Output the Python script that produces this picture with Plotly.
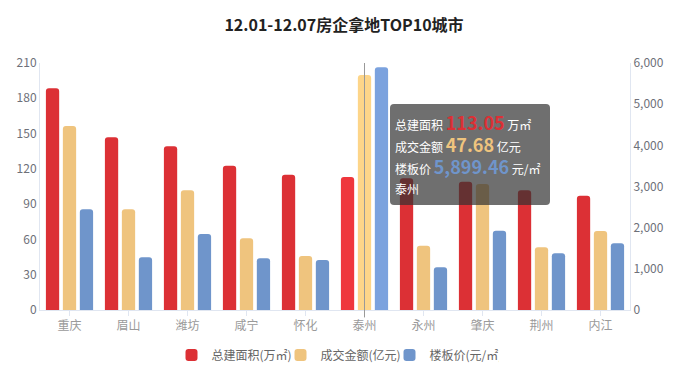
import plotly.graph_objects as go

cities = ["重庆", "眉山", "潍坊", "咸宁", "怀化", "泰州", "永州", "肇庆", "荆州", "内江"]
area = [188.5, 146.8, 139.2, 122.7, 115.0, 113.05, 112.0, 109.1, 101.8, 97.2]
amount = [156.4, 85.6, 101.8, 61.0, 45.9, 199.8, 54.7, 107.1, 53.3, 67.2]
price = [2446, 1280, 1846, 1256, 1215, 5899.46, 1037, 1927, 1377, 1619]
left_ticks = [0, 30, 60, 90, 120, 150, 180, 210]
right_ticks = [0, 1000, 2000, 3000, 4000, 5000, 6000]
hover_city = "泰州"
tip_area, tip_amount, tip_price = "113.05", "47.68", "5,899.46"

RED, YEL, BLU = "#dc3035", "#efc47e", "#6f95cb"
RED_H, YEL_H, BLU_H = "#ef363c", "#fdd589", "#7ba2de"
FONT = "Noto Sans CJK SC"

def cols(base, hi):
    return [hi if c == hover_city else base for c in cities]

W = 0.225
G = 0.0625
fig = go.Figure()
fig.add_trace(go.Bar(x=cities, y=area, name="总建面积(万㎡)", yaxis="y",
                     marker=dict(color=cols(RED, RED_H), cornerradius=3, line=dict(width=0)),
                     width=W, offset=-(1.5 * W + G)))
fig.add_trace(go.Bar(x=cities, y=amount, name="成交金额(亿元)", yaxis="y",
                     marker=dict(color=cols(YEL, YEL_H), cornerradius=3, line=dict(width=0)),
                     width=W, offset=-0.5 * W))
fig.add_trace(go.Bar(x=cities, y=price, name="楼板价(元/㎡)", yaxis="y2",
                     marker=dict(color=cols(BLU, BLU_H), cornerradius=3, line=dict(width=0)),
                     width=W, offset=0.5 * W + G))

L, R, T, B = 40, 58, 63, 69
PW, PH = 688 - L - R, 379 - T - B

def px(xp):
    return (xp - L) / PW

def py(yp):
    return (379 - B - yp) / PH

# axis pointer line
fig.add_shape(type="line", xref="x", yref="paper", x0=hover_city, x1=hover_city,
              y0=-0.03, y1=1.0, line=dict(color="#999999", width=1), layer="above")

# tooltip box (rounded)
x0, x1, y0, y1 = px(390), px(550), py(205), py(104)
rx, ry = 4 / PW, 4 / PH
path = (f"M {x0+rx},{y0} L {x1-rx},{y0} Q {x1},{y0} {x1},{y0+ry} "
        f"L {x1},{y1-ry} Q {x1},{y1} {x1-rx},{y1} L {x0+rx},{y1} "
        f"Q {x0},{y1} {x0},{y1-ry} L {x0},{y0+ry} Q {x0},{y0} {x0+rx},{y0} Z")
fig.add_shape(type="path", xref="paper", yref="paper", path=path,
              fillcolor="rgba(50,50,50,0.7)", line=dict(width=0), layer="above")

lines = [
    f"总建面积 <span style='color:{RED};font-size:18px'><b>{tip_area}</b></span> 万㎡",
    f"成交金额 <span style='color:{YEL};font-size:18px'><b>{tip_amount}</b></span> 亿元",
    f"楼板价 <span style='color:{BLU};font-size:18px'><b>{tip_price}</b></span> 元/㎡",
    hover_city,
]
for i, t in enumerate(lines):
    fig.add_annotation(x=px(393), y=py(122 + 22 * i), xref="paper", yref="paper",
                       text=t, showarrow=False, xanchor="left", yanchor="middle",
                       font=dict(family=FONT, size=12, color="#ffffff"))

axis_common = dict(showgrid=False, zeroline=False, showline=True, linecolor="#e0e6f1",
                   linewidth=1, automargin=False,
                   tickfont=dict(family=FONT, size=12, color="#6e7079"), ticks="")

fig.update_layout(
    template="none",
    width=688, height=379,
    margin=dict(l=L, r=R, t=T, b=B),
    paper_bgcolor="white", plot_bgcolor="white",
    title=dict(text="<b>12.01-12.07房企拿地TOP10城市</b>", x=0.5, xanchor="center",
               xref="container", yref="container",
               y=1 - 25 / 379, yanchor="middle",
               font=dict(family=FONT, size=16, color="#222222")),
    barmode="overlay",
    showlegend=True,
    legend=dict(orientation="h", x=0.5, xanchor="center", yref="container",
                y=1 - 355 / 379, yanchor="middle",
                font=dict(family=FONT, size=12, color="#666666"), itemwidth=30,
                entrywidth=64, traceorder="normal"),
    xaxis=dict(showgrid=False, zeroline=False, showline=True, linecolor="#e0e6f1",
               ticks="outside", ticklen=5, tickcolor="#e0e6f1", automargin=False,
               tickfont=dict(family=FONT, size=12, color="#9a9a9a"),
               range=[-0.5, 9.5]),
    yaxis=dict(range=[0, 210], tickvals=left_ticks, **axis_common),
    yaxis2=dict(range=[0, 6000], tickvals=right_ticks, tickformat=",", overlaying="y",
                side="right", **axis_common),
)

fig.write_html("out.html", config={"displayModeBar": False},
               post_script="document.body.style.margin='0px';")
